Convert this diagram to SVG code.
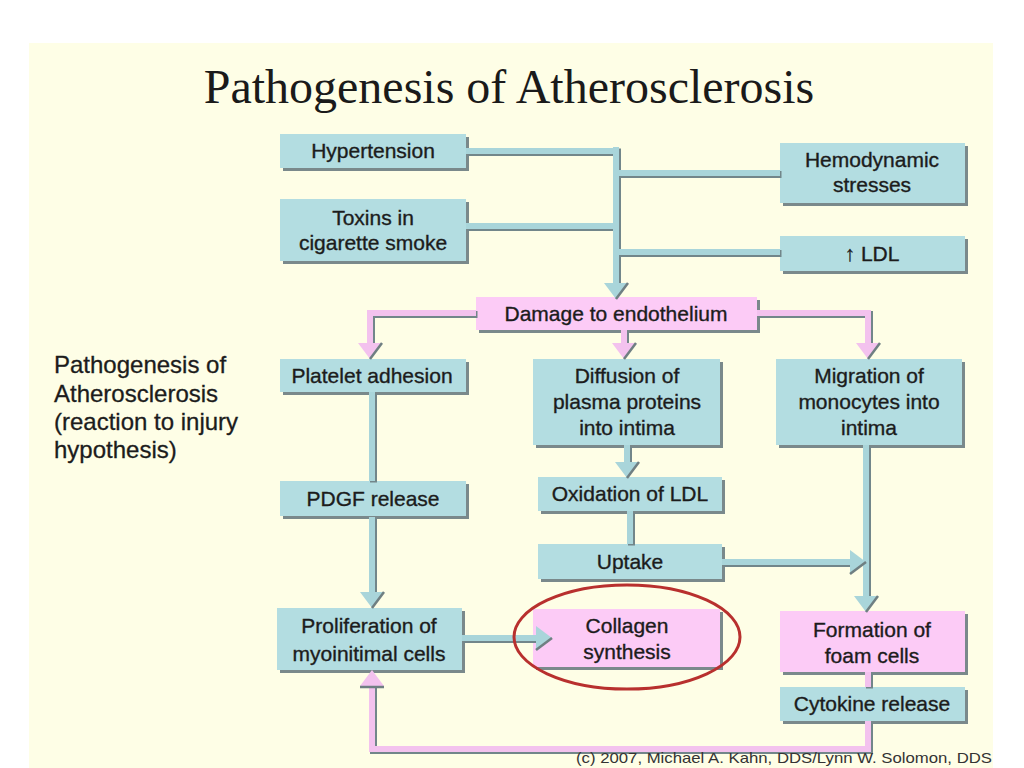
<svg xmlns="http://www.w3.org/2000/svg" width="1024" height="768" viewBox="0 0 1024 768">
<defs>
<style>
.sl{fill:#fefee6}
.shd{fill:#7a898b}
.bl{fill:#b3dde1}
.pk{fill:#fccbf6}
.t{font-family:"Liberation Sans",Arial,sans-serif;font-size:21px;fill:#1c1c1c;stroke:#1c1c1c;stroke-width:0.35;text-anchor:middle}
.side{font-family:"Liberation Sans",Arial,sans-serif;font-size:24px;fill:#1c1c1c;stroke:#1c1c1c;stroke-width:0.3}
.title{font-family:"Liberation Serif","Times New Roman",serif;font-size:48px;fill:#1a1a1a;text-anchor:middle}
.copy{font-family:"Liberation Sans",Arial,sans-serif;font-size:15px;fill:#333}
.ls{fill:none;stroke:#72868a;stroke-width:7}
.lb{fill:none;stroke:#a9d5da;stroke-width:6}
.lp{fill:none;stroke:#f3c2ee;stroke-width:6}
.ab{fill:#a9d5da}
.ap{fill:#f3c2ee}
.ae{fill:none;stroke:#6f7f82;stroke-width:2.5}
</style>
</defs>
<rect width="1024" height="768" fill="#ffffff"/>
<rect class="sl" x="29" y="43" width="964" height="725"/>
<text class="title" x="509" y="103">Pathogenesis of Atherosclerosis</text>
<text class="side" x="54" y="373">Pathogenesis of</text>
<text class="side" x="54" y="402">Atherosclerosis</text>
<text class="side" x="54" y="430">(reaction to injury</text>
<text class="side" x="54" y="458">hypothesis)</text>

<g id="nodes">
<g id="hypertension"><rect class="shd" x="283" y="137" width="186" height="34"/><rect class="bl" x="280" y="134" width="186" height="34"/><text class="t" x="373" y="158">Hypertension</text></g>
<g id="toxins"><rect class="shd" x="283" y="202" width="186" height="62"/><rect class="bl" x="280" y="199" width="186" height="62"/><text class="t" x="373" y="225">Toxins in</text><text class="t" x="373" y="250">cigarette smoke</text></g>
<g id="hemodynamic"><rect class="shd" x="783" y="146" width="185" height="60"/><rect class="bl" x="780" y="143" width="185" height="60"/><text class="t" x="872" y="167">Hemodynamic</text><text class="t" x="872" y="192">stresses</text></g>
<g id="ldl"><rect class="shd" x="783" y="239" width="185" height="35"/><rect class="bl" x="780" y="236" width="185" height="35"/><text class="t" x="872" y="261">↑ LDL</text></g>
<g id="damage"><rect class="shd" x="479" y="300" width="281" height="33"/><rect class="pk" x="476" y="297" width="281" height="33"/><text class="t" x="616" y="321">Damage to endothelium</text></g>
<g id="platelet"><rect class="shd" x="283" y="362" width="186" height="33"/><rect class="bl" x="280" y="359" width="186" height="33"/><text class="t" x="372" y="383">Platelet adhesion</text></g>
<g id="diffusion"><rect class="shd" x="536" y="362" width="187" height="86"/><rect class="bl" x="533" y="359" width="187" height="86"/><text class="t" x="627" y="383">Diffusion of</text><text class="t" x="627" y="409">plasma proteins</text><text class="t" x="627" y="435">into intima</text></g>
<g id="migration"><rect class="shd" x="779" y="362" width="186" height="86"/><rect class="bl" x="776" y="359" width="186" height="86"/><text class="t" x="869" y="383">Migration of</text><text class="t" x="869" y="409">monocytes into</text><text class="t" x="869" y="435">intima</text></g>
<g id="pdgf"><rect class="shd" x="283" y="484" width="186" height="35"/><rect class="bl" x="280" y="481" width="186" height="35"/><text class="t" x="373" y="506">PDGF release</text></g>
<g id="oxidation"><rect class="shd" x="541" y="480" width="184" height="34"/><rect class="bl" x="538" y="477" width="184" height="34"/><text class="t" x="630" y="501">Oxidation of LDL</text></g>
<g id="uptake"><rect class="shd" x="541" y="547" width="184" height="35"/><rect class="bl" x="538" y="544" width="184" height="35"/><text class="t" x="630" y="569">Uptake</text></g>
<g id="proliferation"><rect class="shd" x="280" y="611" width="185" height="62"/><rect class="bl" x="277" y="608" width="185" height="62"/><text class="t" x="369" y="633">Proliferation of</text><text class="t" x="369" y="661">myoinitimal cells</text></g>
<g id="collagen"><rect class="shd" x="536" y="612" width="187" height="58"/><rect class="pk" x="533" y="609" width="187" height="58"/><text class="t" x="627" y="633">Collagen</text><text class="t" x="627" y="659">synthesis</text></g>
<g id="foam"><rect class="shd" x="783" y="614" width="185" height="61"/><rect class="pk" x="780" y="611" width="185" height="61"/><text class="t" x="872" y="637">Formation of</text><text class="t" x="872" y="663">foam cells</text></g>
<g id="cytokine"><rect class="shd" x="783" y="690" width="185" height="34"/><rect class="bl" x="780" y="687" width="185" height="34"/><text class="t" x="872" y="711">Cytokine release</text></g>
</g>

<g id="connectors">
<g id="shadows" transform="translate(1.5,1.5)">
<path class="ls" d="M466,151 H616 M616,147 V286 M466,226 H616 M616,173 H780 M616,252 H780"/>
<path class="ls" d="M372,392 V481 M372,517 V593 M627,445 V463 M630,511 V544 M722,562 H851 M866,445 V597 M462,638 H537"/>
<path class="ls" d="M476,313 H370 V344 M624,330 V344 M757,313 H868 V344 M868,672 V687 M868,721 V749 H372 V685"/>
</g>
<path class="lb" d="M466,151 H616 M616,147 V286 M466,226 H616 M616,173 H780 M616,252 H780"/>
<path class="lb" d="M372,392 V481 M372,517 V593 M627,445 V463 M630,511 V544 M722,562 H851 M866,445 V597 M462,638 H537"/>
<path class="lp" d="M476,313 H370 V344 M624,330 V344 M757,313 H868 V344 M868,672 V687 M868,721 V749 H372 V685"/>
<g id="arrowheads">
<polygon class="ab" points="604,283 628,283 616,299"/><path class="ae" d="M628,283 L616,299"/>
<polygon class="ab" points="360,592 384,592 372,608"/><path class="ae" d="M384,592 L372,608"/>
<polygon class="ab" points="615,462 639,462 627,478"/><path class="ae" d="M639,462 L627,478"/>
<polygon class="ab" points="854,596 878,596 866,612"/><path class="ae" d="M878,596 L866,612"/>
<polygon class="ab" points="850,550 850,574 866,562"/><path class="ae" d="M850,574 L866,562"/>
<polygon class="ab" points="536,626 536,650 552,638"/><path class="ae" d="M536,650 L552,638"/>
<polygon class="ap" points="358,343 382,343 370,359"/><path class="ae" d="M382,343 L370,359"/>
<polygon class="ap" points="612,343 636,343 624,359"/><path class="ae" d="M636,343 L624,359"/>
<polygon class="ap" points="856,343 880,343 868,359"/><path class="ae" d="M880,343 L868,359"/>
<polygon class="ap" points="360,686 384,686 372,670"/><path class="ae" d="M360,687 H384"/>
</g>
</g>

<ellipse cx="627" cy="637" rx="113" ry="52" fill="none" stroke="#b8302e" stroke-width="3"/>
<text class="copy" x="576" y="763" textLength="416" lengthAdjust="spacingAndGlyphs">(c) 2007, Michael A. Kahn, DDS/Lynn W. Solomon, DDS</text>
</svg>
